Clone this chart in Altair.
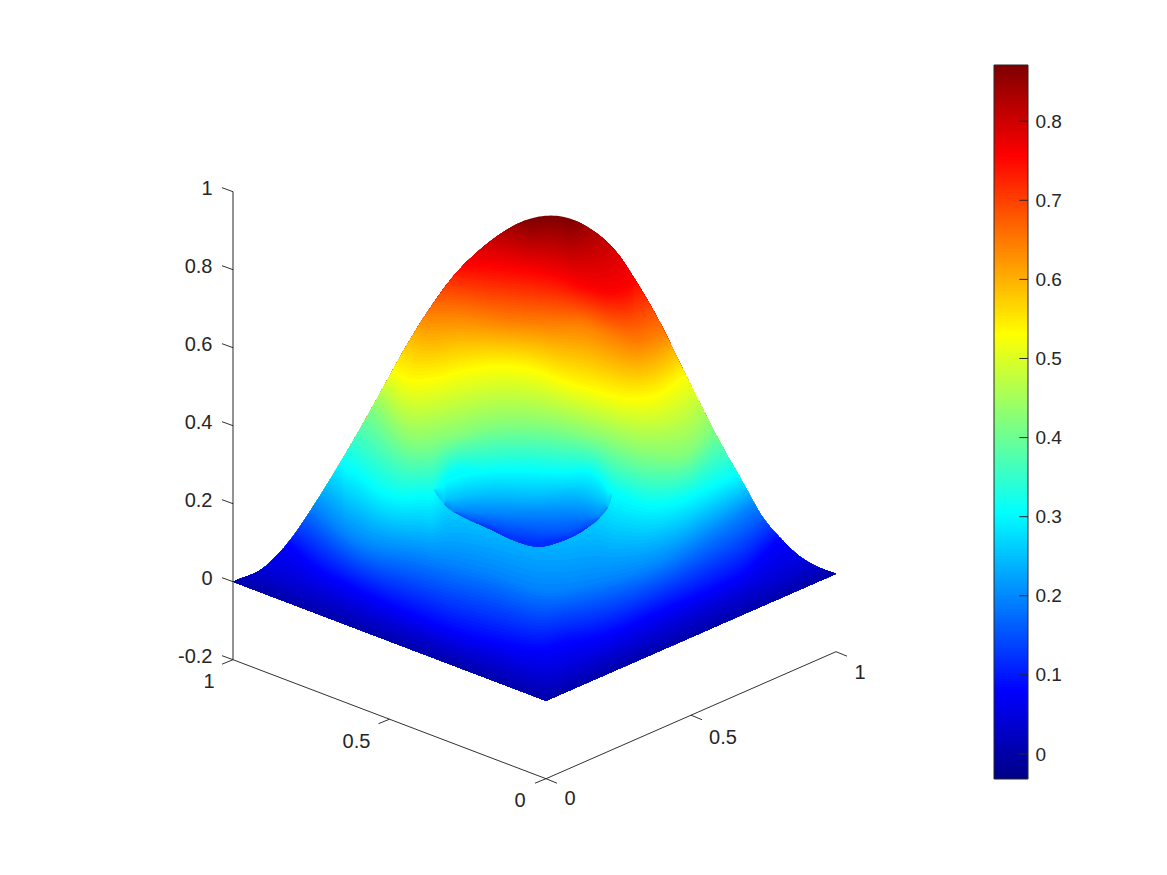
import altair as alt
import numpy as np
import pandas as pd

alt.data_transformers.disable_max_rows()

# ---- axis values
Z_TICKS = [-0.2, 0, 0.2, 0.4, 0.6, 0.8, 1]
XY_TICKS = [0, 0.5, 1]
XY_LABELS = ["0", "0.5", "1"]
CB_TICKS = [0, 0.1, 0.2, 0.3, 0.4, 0.5, 0.6, 0.7, 0.8]
CB_MIN, CB_MAX = -0.0316, 0.871
JET_STOPS = [0, 0.125, 0.375, 0.625, 0.875, 1]
JET_COLORS = ["#000084", "#0000ff", "#00ffff", "#ffff00", "#ff0000", "#800000"]
INK = "#262626"
FONT = "Liberation Sans"

# ---- surface as seen in the view plane (h across, v up; 390 units = 1 in z)
SIL_H = [-313, -281, -254, -233, -216, -198, -179, -159, -139, -119, -93, -66, -39, -19, 1, 17, 44, 71, 91, 114, 137, 157, 177, 197, 217, 234, 254, 271, 290]
SIL_V = [0, 15, 44, 75, 102, 132, 165, 201, 237, 269, 305, 332, 352, 362, 366, 365, 353, 329, 299, 259, 212, 172, 134, 99, 64, 44, 25, 15, 8]

LEVELS = [0.04, 0.081, 0.194, 0.307, 0.42, 0.533, 0.645, 0.758, 0.871]
C04_H = [-286, -246, -146, -46, 0, 54, 104, 204, 234, 262]
C04_V = [13, -3, -45, -80, -93, -75, -53, -8, 5, 20]
C08_H = [-259, -226, -193, -143, -93, -43, -1, 17, 51, 117, 164, 201, 224, 234]
C08_V = [39, 12, -5, -28, -48, -61, -66, -61, -55, -28, -8, 12, 35, 45]
C19_H = [-233, -193, -126, -59, 0, 51, 117, 167, 209]
C19_V = [75, 42, 25, 9, -8, -1, 19, 49, 77]
C31_H = [-204, -193, -166, -139, -126, -113, -101, -59, -26, 14, 54, 66, 81, 97, 134, 164, 192]
C31_V = [117, 112, 92, 85, 87, 88, 104, 111, 112, 110, 104, 92, 85, 79, 82, 95, 108]
C42_H = [-174, -139, -96, -59, 7, 54, 104, 144, 166]
C42_V = [174, 140, 144, 154, 154, 142, 126, 130, 152]
C53_H = [-152, -139, -113, -86, -43, -9, 17, 51, 84, 111, 127, 139]
C53_V = [213, 205, 205, 212, 217, 212, 202, 192, 185, 189, 199, 209]
C65_H = [-119, -93, -43, 14, 34, 67, 90, 118]
C65_V = [269, 269, 262, 259, 259, 247, 240, 250]
C76_H = [-81, -43, 14, 34, 84, 88]
C76_V = [318, 315, 305, 297, 297, 300]
C87_H = [-16, 4, 24]
C87_V = [364, 366, 363]
CONTOURS = [(C04_H, C04_V), (C08_H, C08_V), (C19_H, C19_V), (C31_H, C31_V), (C42_H, C42_V),
            (C53_H, C53_V), (C65_H, C65_V), (C76_H, C76_V), (C87_H, C87_V)]

# ---- the hollow in the middle of the slope
LIP_H = [-112, -107, -98, -85, -59, -26, -9, 14, 41, 56, 64, 66]
LIP_V = [92, 84, 74, 66, 54, 39, 35, 40, 54, 67, 80, 88]
DIP_LEVELS = [0.12, 0.15, 0.194, 0.25, 0.307]
D12_H = [-31, -9, 19]
D12_V = [41, 39, 43]
D15_H = [-70, -26, 24, 44]
D15_V = [60, 51, 50, 57]
D19_H = [-90, -59, -26, 7, 41, 52]
D19_V = [70, 68, 67, 67, 66, 64]
D25_H = [-100, -59, -9, 41, 60]
D25_V = [82, 88, 87, 87, 78]
D31_H = [-112, -101, -59, -26, 14, 54, 66]
D31_V = [92, 100, 111, 112, 110, 104, 88]
DIP_CONTOURS = [(D12_H, D12_V), (D15_H, D15_V), (D19_H, D19_V), (D25_H, D25_V), (D31_H, D31_V)]


def project(x, y, z):
    """MATLAB-style oblique view: data coordinates to the view plane."""
    return 290 * x - 313 * y, 390 * z - 119 + 127 * x + 119 * y


def smooth(hs, vs, q):
    hs, vs = np.asarray(hs, float), np.asarray(vs, float)
    if len(hs) < 3:
        return np.interp(q, hs, vs)
    m = np.gradient(vs, hs)
    i = np.clip(np.searchsorted(hs, q, side="right") - 1, 0, len(hs) - 2)
    d = hs[i + 1] - hs[i]
    t = np.clip((q - hs[i]) / d, 0, 1)
    return ((2 * t**3 - 3 * t**2 + 1) * vs[i] + (t**3 - 2 * t**2 + t) * d * m[i]
            + (-2 * t**3 + 3 * t**2) * vs[i + 1] + (t**3 - t**2) * d * m[i + 1])


left, front, right = project(0, 1, 0), project(0, 0, 0), project(1, 0, 0)
cols = np.unique(np.concatenate([np.arange(left[0], right[0], 3.0), [front[0], right[0]]]))
sil = smooth(SIL_H, SIL_V, cols)
sil[0], sil[-1] = left[1], right[1]
edge = np.interp(cols, [left[0], front[0], right[0]], [left[1], front[1], right[1]])
sil = np.maximum(sil, edge)

# colour along the outline: it passes each level where that contour meets the outline
top_h = [left[0]] + [c[0][0] for c in CONTOURS] + [c[0][-1] for c in CONTOURS[::-1]] + [right[0]]
top_z = [0.0] + LEVELS + LEVELS[::-1] + [0.0]
z_top = np.interp(cols, top_h, top_z)

base_rows = []
fine = np.linspace(0, LEVELS[-1], 150)[::-1]
curves = [smooth(hs, vs, cols) for hs, vs in CONTOURS]
for i, h in enumerate(cols):
    kl, kv = [0.0], [edge[i]]
    for lev, (hs, vs), cv in zip(LEVELS, CONTOURS, curves):
        if hs[0] <= h <= hs[-1] and lev < z_top[i]:
            kl.append(lev)
            kv.append(min(max(cv[i], kv[-1]), sil[i]))
    kl.append(max(z_top[i], kl[-1] + 1e-6))
    kv.append(sil[i])
    base_rows.append(np.interp(fine, kl, kv))
base_rows = np.array(base_rows)
base = pd.DataFrame({
    "level": np.repeat(np.round(fine, 4), len(cols)),
    "h": np.tile(cols, len(fine)),
    "v": base_rows.T.ravel(),
    "v0": np.tile(edge, len(fine)),
})

dcols = np.unique(np.concatenate([np.arange(LIP_H[0], LIP_H[-1], 2.0), [LIP_H[-1]]]))
lip = smooth(LIP_H, LIP_V, dcols)
dip_heights = []
for hs, vs in DIP_CONTOURS:
    v = smooth(hs, vs, dcols)
    v = np.where((dcols < hs[0]) | (dcols > hs[-1]), lip, np.maximum(v, lip))
    dip_heights.append(v)
dip_heights = np.maximum.accumulate(np.array(dip_heights), axis=0)
dfine = np.linspace(DIP_LEVELS[0], DIP_LEVELS[-1], 40)[::-1]
dip_rows = np.array([[np.interp(l, DIP_LEVELS, dip_heights[:, i]) for i in range(len(dcols))] for l in dfine])
dip = pd.DataFrame({
    "level": np.repeat(np.round(dfine, 4), len(dcols)),
    "h": np.tile(dcols, len(dfine)),
    "v": dip_rows.ravel(),
    "v0": np.tile(lip, len(dfine)),
})

# ---- scales
xs = alt.Scale(domain=[-313, 482], nice=False, zero=False)
ys = alt.Scale(domain=[-197.3, 516.7], nice=False, zero=False)
zs = alt.Scale(domain=[-0.2, 1], range=[594.7, 126.7], nice=False, zero=False)
cs = alt.Scale(domain=[CB_MIN, CB_MAX], nice=False, zero=False)
span = CB_MAX - CB_MIN
jet = alt.Scale(domain=[CB_MIN + t * span for t in JET_STOPS], range=JET_COLORS, interpolate="rgb")

X = alt.X("h:Q", scale=xs, axis=None)
Y = alt.Y("v:Q", scale=ys, axis=None)


def surface(df):
    return alt.Chart(df).mark_area(interpolate="linear", stroke=None).encode(
        x=X, y=Y, y2="v0:Q", color=alt.Color("level:Q", scale=jet, legend=None))


# ---- box lines and ticks of the oblique axes
segs = []
for a, b in [((0, 1, -0.2), (0, 0, -0.2)), ((0, 0, -0.2), (1, 0, -0.2))]:
    pa, pb = project(*a), project(*b)
    segs.append((pa[0], pa[1], pb[0], pb[1]))
for t in XY_TICKS:
    p = project(t, 0, -0.2)
    segs.append((p[0], p[1], p[0] + 11, p[1] - 4.5))
    p = project(0, t, -0.2)
    segs.append((p[0], p[1], p[0] - 11, p[1] - 4.5))
for z in Z_TICKS:
    p = project(0, 1, z)
    segs.append((p[0], p[1], p[0] - 11, p[1] + 4))
seg_df = pd.DataFrame(segs, columns=["h", "v", "h2", "v2"])
seg_layer = alt.Chart(seg_df).mark_rule(color="#1a1a1a", strokeWidth=0.9).encode(x=X, y=Y, x2="h2:Q", y2="v2:Q")

lab_rows = []
for t, s, ox, oy in zip(XY_TICKS, XY_LABELS, [24, 32, 24], [-20.5, -22.5, -21.5]):
    p = project(t, 0, -0.2)
    lab_rows.append((p[0] + ox, p[1] + oy, s))
for t, s, ox, oy in zip(XY_TICKS, XY_LABELS, [-26, -33, -24], [-22.5, -22.5, -22.5]):
    p = project(0, t, -0.2)
    lab_rows.append((p[0] + ox, p[1] + oy, s))
lab_df = pd.DataFrame(lab_rows, columns=["h", "v", "s"])
lab_layer = alt.Chart(lab_df).mark_text(font=FONT, fontSize=20, color=INK, align="center", baseline="middle").encode(
    x=X, y=Y, text="s:N")

# ---- z axis: a real axis on its own scale
za = project(0, 1, 0)[0]
z_df = pd.DataFrame({"h": [za], "zlo": [-0.2], "zhi": [1.0]})
z_layer = alt.Chart(z_df).mark_rule(color=INK, strokeWidth=1).encode(
    x=X,
    y=alt.Y("zlo:Q", scale=zs, axis=alt.Axis(
        orient="left", title=None, values=Z_TICKS, ticks=False, domain=False, grid=False, labelPadding=21,
        labelOffset=-3, labelFont=FONT, labelFontSize=20, labelColor=INK,
        labelExpr="datum.value < 0 ? '-' + format(-datum.value, '~g') : format(datum.value, '~g')")),
    y2="zhi:Q")

# ---- colour bar with a real axis on its own scale
BAR_H = (448.0, 482.0)
bar_levels = np.linspace(CB_MIN, CB_MAX, 257)[::-1]
bar_df = pd.DataFrame({"h": BAR_H[0], "h2": BAR_H[1], "level": bar_levels, "lo": CB_MIN})
bar_layer = alt.Chart(bar_df).mark_rect(stroke=None).encode(
    x=X, x2="h2:Q",
    y=alt.Y("level:Q", scale=cs, axis=alt.Axis(
        orient="right", title=None, values=CB_TICKS, ticks=False, domain=False, grid=False, labelPadding=7,
        labelFont=FONT, labelFontSize=19, labelColor=INK, format="~g")),
    y2="lo:Q",
    color=alt.Color("level:Q", scale=jet, legend=None))
box_df = pd.DataFrame({"h": [BAR_H[0]], "h2": [BAR_H[1]], "lo": [CB_MIN], "hi": [CB_MAX]})
box_layer = alt.Chart(box_df).mark_rect(filled=False, stroke=INK, strokeWidth=1).encode(
    x=X, x2="h2:Q", y=alt.Y("lo:Q", scale=cs, axis=None), y2="hi:Q")
tick_df = pd.DataFrame({"h": BAR_H[1] - 8.7, "h2": BAR_H[1], "t": CB_TICKS})
tick_layer = alt.Chart(tick_df).mark_rule(color=INK, strokeWidth=1).encode(
    x=X, x2="h2:Q", y=alt.Y("t:Q", scale=cs, axis=None))

chart = alt.layer(
    z_layer, bar_layer, surface(base), surface(dip), seg_layer, lab_layer, box_layer, tick_layer
).resolve_scale(y="independent").properties(
    width=795, height=714,
    padding={"left": 225, "top": 57, "right": 120, "bottom": 80},
    autosize=alt.AutoSizeParams(type="none"),
    background="white",
).configure_view(stroke=None)

chart.save("out.html", embed_options={"renderer": "svg", "actions": False})
